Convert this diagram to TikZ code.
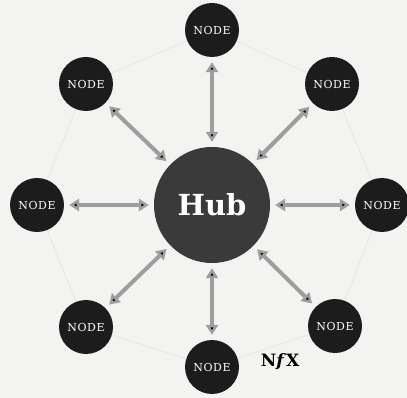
\documentclass[tikz,border=0pt]{standalone}
\usepackage{fontspec}
\setmainfont{DejaVu Serif}
\usetikzlibrary{positioning,arrows.meta}

\definecolor{paper}{HTML}{F3F3F1}
\definecolor{hubgray}{HTML}{3A3A3A}
\definecolor{nodeblack}{HTML}{1C1C1C}
\definecolor{arrowgray}{HTML}{9C9F9D}
\definecolor{ringgray}{HTML}{E6E6E4}

\begin{document}
\begin{tikzpicture}[x=1pt,y=-1pt,on grid,
        >={Triangle[length=10pt,width=12pt]},
        spoke/.style={circle,fill=nodeblack,text=white,minimum size=54pt,
          inner sep=0pt,font=\fontsize{11}{11}\selectfont\addfontfeature{LetterSpace=6}},
        link/.style={<->,draw=arrowgray,line width=4pt,
          shorten >=5pt,shorten <=5pt}]
  \useasboundingbox[fill=paper] (0,0) rectangle (407,398);
  \node[circle,fill=hubgray,text=white,minimum size=116pt,inner sep=0pt,
        font=\fontsize{29}{29}\selectfont\bfseries] (hub) at (212,205) {Hub};
  \node[spoke] (t)  [above=175pt of hub]                {NODE};
  \node[spoke] (tr) [above right=121pt and 120pt of hub] {NODE};
  \node[spoke] (r)  [right=170pt of hub]                {NODE};
  \node[spoke] (br) [below right=121pt and 123pt of hub] {NODE};
  \node[spoke] (b)  [below=162pt of hub]                {NODE};
  \node[spoke] (bl) [below left=122pt and 126pt of hub]  {NODE};
  \node[spoke] (l)  [left=175pt of hub]                 {NODE};
  \node[spoke] (tl) [above left=121pt and 126pt of hub]  {NODE};
  % faint ring round the outside
  \draw[ringgray,line width=0.8pt] (t) -- (tr) -- (r) -- (br) -- (b)
        -- (bl) -- (l) -- (tl) -- (t);
  \path[link] (hub) edge (t)
              (hub) edge (tr)
              (hub) edge (r)
              (hub) edge (br)
              (hub) edge (b)
              (hub) edge (bl)
              (hub) edge (l)
              (hub) edge (tl);
  \node[font=\fontsize{17}{17}\selectfont\bfseries] (nfx) at (280,362)
        {N\textit{f}X};
\end{tikzpicture}
\end{document}
